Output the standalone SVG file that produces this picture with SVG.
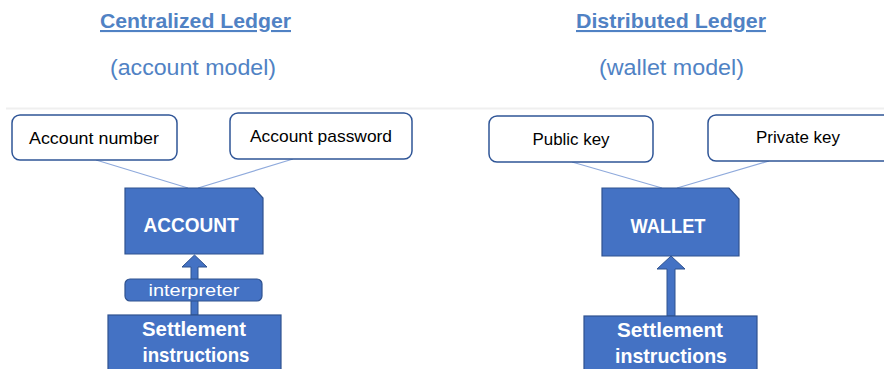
<svg xmlns="http://www.w3.org/2000/svg" width="884" height="369" viewBox="0 0 884 369">
<style>
.title{font-family:"Liberation Sans",Arial,sans-serif;font-weight:bold;font-size:21px;fill:#5082C4;text-decoration:underline}
.sub{font-family:"Liberation Sans",Arial,sans-serif;font-size:22px;fill:#5082C4}
.key rect{fill:#ffffff;stroke:#2F5597;stroke-width:1.5}
.key text{font-family:"Liberation Sans",Arial,sans-serif;font-size:17px;fill:#000000;text-anchor:middle}
.main path,.main rect{fill:#4472C4;stroke:#2F528F;stroke-width:1.2}
.main text{font-family:"Liberation Sans",Arial,sans-serif;font-weight:bold;font-size:21px;fill:#ffffff;text-anchor:middle}
.link{stroke:#8FAADC;stroke-width:1.2;fill:none}
.arrow{fill:#4472C4;stroke:#2F528F;stroke-width:1}
</style>
<rect x="0" y="0" width="884" height="369" fill="#ffffff"/>
<line x1="6" y1="108.5" x2="884" y2="108.5" stroke="#EFEFEF" stroke-width="2"/>

<g id="title-left">
<text class="title" x="100" y="28" textLength="191" lengthAdjust="spacingAndGlyphs">Centralized Ledger</text>
<text class="sub" x="110" y="75" textLength="166" lengthAdjust="spacingAndGlyphs">(account model)</text>
</g>
<g id="title-right">
<text class="title" x="576" y="28" textLength="190" lengthAdjust="spacingAndGlyphs">Distributed Ledger</text>
<text class="sub" x="599" y="75" textLength="145" lengthAdjust="spacingAndGlyphs">(wallet model)</text>
</g>

<g id="connectors">
<line class="link" x1="96" y1="160" x2="188" y2="188"/>
<line class="link" x1="293" y1="159" x2="198" y2="188"/>
<line class="link" x1="572" y1="162" x2="662" y2="188"/>
<line class="link" x1="769" y1="161" x2="677" y2="188"/>
<path class="arrow" d="M191,315 L191,267 L182,267 L194.5,255 L207,267 L198,267 L198,315 Z"/>
<path class="arrow" d="M667,316 L667,269 L657,269 L671,256 L685,269 L675,269 L675,316 Z"/>
</g>

<g id="account-number" class="key">
<rect x="12" y="115" width="165" height="45" rx="8"/>
<text x="94" y="144" textLength="130" lengthAdjust="spacingAndGlyphs">Account number</text>
</g>
<g id="account-password" class="key">
<rect x="230" y="113" width="182" height="46" rx="8"/>
<text x="321" y="142" textLength="142" lengthAdjust="spacingAndGlyphs">Account password</text>
</g>
<g id="public-key" class="key">
<rect x="489" y="116" width="164" height="46" rx="8"/>
<text x="571" y="145" textLength="77" lengthAdjust="spacingAndGlyphs">Public key</text>
</g>
<g id="private-key" class="key">
<rect x="708" y="115" width="190" height="46" rx="8"/>
<text x="798" y="143" textLength="84" lengthAdjust="spacingAndGlyphs">Private key</text>
</g>

<g id="account" class="main">
<path d="M125,188 L254,188 L263,198 L263,254 L125,254 Z"/>
<text x="191" y="232" textLength="95" lengthAdjust="spacingAndGlyphs">ACCOUNT</text>
</g>
<g id="wallet" class="main">
<path d="M602,188 L729,188 L739,199 L739,256 L602,256 Z"/>
<text x="668" y="233" textLength="75" lengthAdjust="spacingAndGlyphs">WALLET</text>
</g>

<g id="interpreter" class="main">
<rect x="125" y="279" width="137" height="22" rx="5"/>
<text x="194" y="296" style="font-weight:normal;font-size:17px" textLength="91" lengthAdjust="spacingAndGlyphs">interpreter</text>
</g>

<g id="settlement-left" class="main">
<rect x="108" y="315" width="173" height="60"/>
<text x="194" y="336" textLength="104" lengthAdjust="spacingAndGlyphs">Settlement</text>
<text x="196" y="362" textLength="107" lengthAdjust="spacingAndGlyphs">instructions</text>
</g>
<g id="settlement-right" class="main">
<rect x="584" y="316" width="173" height="60"/>
<text x="670" y="337" textLength="106" lengthAdjust="spacingAndGlyphs">Settlement</text>
<text x="671" y="363" textLength="112" lengthAdjust="spacingAndGlyphs">instructions</text>
</g>
</svg>
